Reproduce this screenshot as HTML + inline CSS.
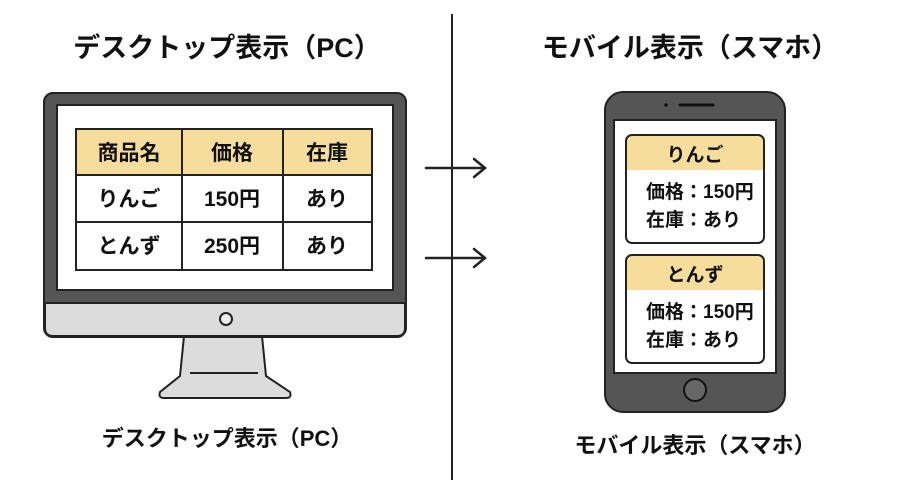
<!DOCTYPE html>
<html><head><meta charset="utf-8"><style>
body{margin:0;width:900px;height:491px;background:#fff;overflow:hidden;font-family:"Liberation Sans","Noto Sans CJK JP",sans-serif;}
svg text{font-family:"Liberation Sans","Noto Sans CJK JP",sans-serif;fill:#111;}
</style></head><body>
<svg width="900" height="491" viewBox="0 0 900 491" xmlns="http://www.w3.org/2000/svg">
<line x1="452" y1="14" x2="452" y2="480" stroke="#222" stroke-width="2"/>
<text x="227" y="57" font-size="27" font-weight="bold" text-anchor="middle">デスクトップ表示（PC）</text>
<text x="690" y="57" font-size="27" font-weight="bold" text-anchor="middle">モバイル表示（スマホ）</text>
<!-- monitor stand -->
<path d="M184 336 L262 336 L266 376 L290 392 Q292 398 286 398 L164 398 Q158 398 160 392 L180 376 Z" fill="#dcdcdc" stroke="#222" stroke-width="2"/>
<line x1="190" y1="373" x2="258" y2="373" stroke="#222" stroke-width="2"/>
<!-- monitor body -->
<rect x="44" y="93" width="362" height="244" rx="9" fill="#555" stroke="#222" stroke-width="2"/>
<path d="M45 303 L405 303 L405 328 Q405 336 397 336 L53 336 Q45 336 45 328 Z" fill="#dcdcdc" stroke="#222" stroke-width="2"/>
<rect x="57" y="105" width="336" height="185" fill="#fff" stroke="#222" stroke-width="2"/>
<circle cx="226" cy="319" r="6" fill="#eee" stroke="#222" stroke-width="2"/>
<!-- table -->
<rect x="76" y="129" width="296" height="46" fill="#f6dd9c"/>
<rect x="76" y="129" width="296" height="141" fill="none" stroke="#222" stroke-width="2"/>
<g stroke="#222" stroke-width="2">
<line x1="182" y1="129" x2="182" y2="270"/><line x1="283" y1="129" x2="283" y2="270"/>
<line x1="76" y1="175" x2="372" y2="175"/><line x1="76" y1="222" x2="372" y2="222"/>
</g>
<g font-size="21" font-weight="bold" text-anchor="middle">
<text x="129" y="160">商品名</text><text x="232" y="160">価格</text><text x="327" y="160">在庫</text>
<text x="129" y="206">りんご</text><text x="232" y="206">150円</text><text x="327" y="206">あり</text>
<text x="129" y="253">とんず</text><text x="232" y="253">250円</text><text x="327" y="253">あり</text>
</g>
<!-- arrows -->
<g stroke="#222" stroke-width="2.5" fill="none" stroke-linecap="round">
<line x1="426" y1="168" x2="484" y2="168"/><path d="M474 159 L485 168 L474 177"/>
<line x1="426" y1="258" x2="484" y2="258"/><path d="M474 249 L485 258 L474 267"/>
</g>
<!-- phone -->
<rect x="605" y="92" width="180" height="320" rx="18" fill="#555" stroke="#222" stroke-width="2"/>
<rect x="614" y="120" width="162" height="253" fill="#fff" stroke="#222" stroke-width="2"/>
<line x1="680" y1="105" x2="713" y2="105" stroke="#111" stroke-width="3" stroke-linecap="round"/>
<circle cx="666" cy="105" r="1.8" fill="#111"/>
<circle cx="695" cy="390" r="11" fill="#666" stroke="#111" stroke-width="2"/>
<g>
<path d="M626 170 L626 141 Q626 135 632 135 L758 135 Q764 135 764 141 L764 170 Z" fill="#f6dd9c"/>
<rect x="626" y="135" width="138" height="108" rx="6" fill="none" stroke="#222" stroke-width="2"/>
<path d="M626 290 L626 261 Q626 255 632 255 L758 255 Q764 255 764 261 L764 290 Z" fill="#f6dd9c"/>
<rect x="626" y="255" width="138" height="108" rx="6" fill="none" stroke="#222" stroke-width="2"/>
</g>
<g font-size="19" font-weight="bold">
<text x="695" y="161" text-anchor="middle">りんご</text>
<text x="646" y="198">価格：150円</text>
<text x="646" y="226">在庫：あり</text>
<text x="695" y="281" text-anchor="middle">とんず</text>
<text x="646" y="318">価格：150円</text>
<text x="646" y="346">在庫：あり</text>
</g>
<text x="227" y="446" font-size="22" font-weight="bold" text-anchor="middle">デスクトップ表示（PC）</text>
<text x="695" y="453" font-size="22" font-weight="bold" text-anchor="middle">モバイル表示（スマホ）</text>
</svg>
</body></html>
